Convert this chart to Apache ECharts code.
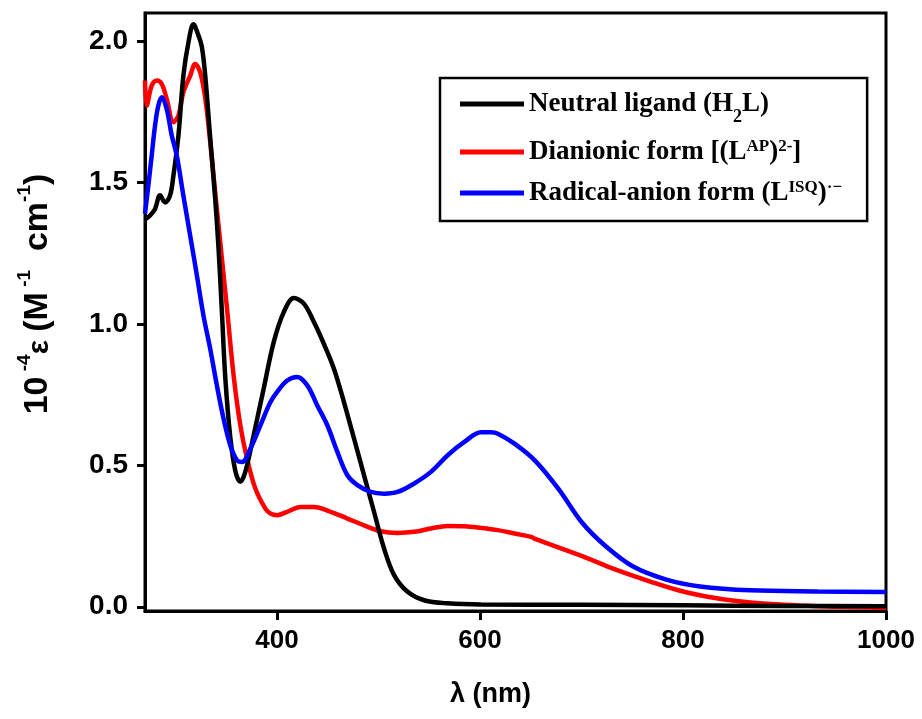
<!DOCTYPE html>
<html><head><meta charset="utf-8">
<script src="https://cdn.jsdelivr.net/npm/echarts@6/dist/echarts.min.js"></script>
<style>html,body{margin:0;padding:0;background:#fff}#c{width:922px;height:719px}</style>
</head><body><div id="c"></div>
<script>
const seriesNames = ['Neutral ligand (H2L)', 'Dianionic form [(LAP)2-]', 'Radical-anion form (LISQ)·−'];
const xTicks = [400, 600, 800, 1000];
const yTicks = [0, 0.5, 1.0, 1.5, 2.0];
const neutral = [[270,1.37],[275,1.384],[279.9,1.407],[284.8,1.455],[289.8,1.43],[294.7,1.455],[298,1.525],[302.9,1.666],[307.8,1.878],[312.8,1.996],[317.7,2.06],[322.7,2.02],[326,1.98],[329.3,1.88],[334.2,1.66],[339.2,1.44],[342.4,1.27],[345.8,1.04],[349.1,0.81],[354,0.60],[359,0.48],[363.9,0.442],[368.8,0.477],[377,0.606],[386.9,0.771],[396.8,0.936],[406.7,1.042],[416.6,1.092],[426.5,1.072],[436.4,1.007],[446.2,0.93],[456.1,0.842],[466,0.724],[475.9,0.595],[485.8,0.465],[495.6,0.336],[505.5,0.206],[515.4,0.112],[528.7,0.053],[545.1,0.023],[568.2,0.012],[601.1,0.008],[700,0.007],[800,0.005],[900,0.003],[1000,0.002]];
const dianionic = [[270,1.861],[271.7,1.772],[276.6,1.843],[281.6,1.861],[286.5,1.849],[291.4,1.796],[298,1.714],[302.9,1.737],[307.8,1.82],[314.5,1.878],[319.4,1.92],[324.4,1.89],[329.3,1.80],[333.5,1.67],[337.5,1.525],[344.1,1.29],[350.8,1.054],[357.3,0.818],[363.9,0.642],[370.5,0.524],[378.7,0.418],[388.6,0.347],[393.6,0.33],[400.2,0.324],[410.1,0.336],[423.2,0.353],[436.4,0.353],[452.9,0.336],[469.4,0.312],[485.8,0.288],[502.3,0.267],[518.8,0.261],[535.2,0.265],[551.7,0.277],[568.2,0.286],[584.6,0.285],[601.1,0.279],[617.6,0.271],[634,0.259],[650.5,0.247],[654.2,0.24],[700.7,0.179],[733.8,0.131],[767,0.090],[800.1,0.054],[833.3,0.030],[866.5,0.015],[899.6,0.007],[932.8,0.002],[965.9,-0.001],[1000,-0.004]];
const radical = [[270,1.39],[273.3,1.49],[276.6,1.596],[279.9,1.702],[283.1,1.772],[286.5,1.802],[291.4,1.76],[296.4,1.666],[301.3,1.596],[307.8,1.454],[314.5,1.313],[321.1,1.172],[327.6,1.03],[334.2,0.913],[340.8,0.783],[347.4,0.665],[354,0.571],[360.6,0.518],[365.6,0.512],[373.8,0.559],[383.7,0.642],[393.6,0.724],[400.2,0.76],[410.1,0.80],[420,0.813],[429.9,0.783],[439.7,0.712],[449.6,0.642],[459.5,0.548],[469.4,0.465],[479.3,0.43],[492.4,0.406],[505.5,0.40],[518.8,0.406],[535.2,0.436],[551.7,0.477],[568.2,0.536],[584.6,0.583],[601.1,0.617],[611,0.617],[617.6,0.612],[634,0.577],[654.2,0.517],[677.5,0.416],[700.7,0.297],[723.9,0.214],[750.4,0.143],[783.6,0.096],[816.7,0.072],[866.5,0.058],[932.8,0.054],[1000,0.052]];
const colors = ['#000000', '#ff0000', '#0000ff'];

const serif = "'Liberation Serif', 'Times New Roman', serif";
const legendRich = {
  n: {fontFamily: serif, fontWeight: 'bold', fontSize: 27, color: '#000', lineHeight: 30, height: 30, verticalAlign: 'bottom'},
  sub: {fontFamily: serif, fontWeight: 'bold', fontSize: 18, color: '#000', lineHeight: 4, height: 4, verticalAlign: 'bottom'},
  sup: {fontFamily: serif, fontWeight: 'bold', fontSize: 17, color: '#000', lineHeight: 20, height: 20, verticalAlign: 'top'}
};
const legendLabels = {};
legendLabels[seriesNames[0]] = '{n|Neutral ligand (H}{sub|2}{n|L)}';
legendLabels[seriesNames[1]] = '{n|Dianionic form [(L}{sup|AP}{n|)}{sup|2-}{n|]}';
legendLabels[seriesNames[2]] = '{n|Radical-anion form (L}{sup|ISQ}{n|)}{sup|·−}';

const axisFont = "'Liberation Sans', Arial, sans-serif";
const chart = echarts.init(document.getElementById('c'), null, {renderer: 'canvas'});
chart.setOption({
  animation: false,
  backgroundColor: '#fff',
  grid: {left: 145, right: 36, top: 13, bottom: 108, show: true, borderColor: '#000', borderWidth: 3, outerBoundsMode: 'none'},
  legend: {
    left: 440, top: 78, orient: 'vertical',
    data: seriesNames,
    icon: 'rect', itemWidth: 64, itemHeight: 5, itemGap: 11,
    padding: [11, 25, 13, 20],
    borderColor: '#000', borderWidth: 2.5, borderRadius: 0,
    formatter: function (name) { return legendLabels[name]; },
    textStyle: {rich: legendRich}
  },
  xAxis: {
    type: 'value', min: 270, max: 1000,
    name: 'λ (nm)', nameLocation: 'middle', nameGap: 70,
    nameTextStyle: {fontFamily: axisFont, fontWeight: 'bold', fontSize: 27, color: '#000', padding: [0, 50, 0, 0]},
    axisLine: {show: true, onZero: false, lineStyle: {color: '#000', width: 3}},
    axisTick: {show: true, length: 9, inside: false, customValues: xTicks, lineStyle: {color: '#000', width: 3}},
    axisLabel: {customValues: xTicks, formatter: function (v) { return String(v); }, fontFamily: axisFont, fontWeight: 'bold', fontSize: 26, color: '#000', margin: 17},
    splitLine: {show: false}
  },
  yAxis: {
    type: 'value', min: -0.015, max: 2.1,
    name: '{a|10}{s| -4}{e|ε }{a|(M}{s| -1}{a|  cm}{s|-1}{a|)}', nameLocation: 'middle', nameGap: 90,
    nameTextStyle: {
      fontFamily: axisFont, fontWeight: 'bold', fontSize: 34, color: '#000', padding: [0, 0, 0, 36],
      rich: {
        a: {fontFamily: axisFont, fontWeight: 'bold', fontSize: 34, color: '#000', lineHeight: 40, verticalAlign: 'bottom'},
        e: {fontFamily: axisFont, fontWeight: 'bold', fontSize: 30, color: '#000', lineHeight: 36, verticalAlign: 'bottom'},
        s: {fontFamily: axisFont, fontWeight: 'bold', fontSize: 19, color: '#000', lineHeight: 19, verticalAlign: 'top'}
      }
    },
    axisLine: {show: true, onZero: false, lineStyle: {color: '#000', width: 3}},
    axisTick: {show: true, length: 8, inside: false, customValues: yTicks, lineStyle: {color: '#000', width: 3}},
    axisLabel: {customValues: yTicks, formatter: function (v) { return v.toFixed(1); }, fontFamily: axisFont, fontWeight: 'bold', fontSize: 28, color: '#000', margin: 17},
    splitLine: {show: false}
  },
  series: [
    {name: seriesNames[0], type: 'line', data: neutral, showSymbol: false, smooth: 0.35, color: colors[0], lineStyle: {width: 4.5, color: colors[0]}, z: 3},
    {name: seriesNames[1], type: 'line', data: dianionic, showSymbol: false, smooth: 0.35, color: colors[1], lineStyle: {width: 4.5, color: colors[1]}, z: 2},
    {name: seriesNames[2], type: 'line', data: radical, showSymbol: false, smooth: 0.35, color: colors[2], lineStyle: {width: 4.5, color: colors[2]}, z: 4}
  ]
});
</script>
</body></html>
